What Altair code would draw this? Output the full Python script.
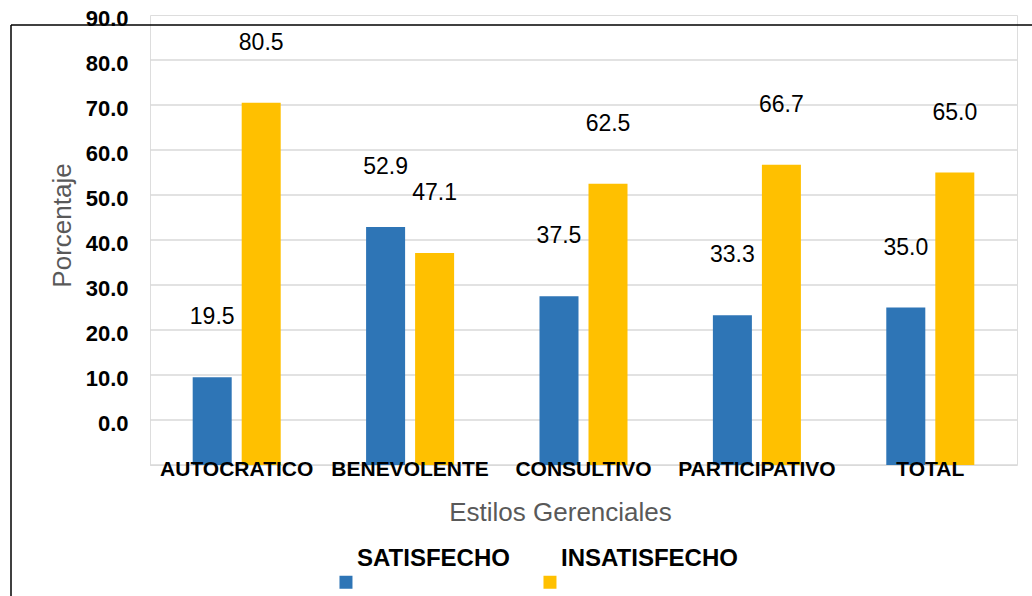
import altair as alt
import pandas as pd

CATEGORIES = ["AUTOCRATICO", "BENEVOLENTE", "CONSULTIVO", "PARTICIPATIVO", "TOTAL"]
SATISFECHO = [19.5, 52.9, 37.5, 33.3, 35.0]
INSATISFECHO = [80.5, 47.1, 62.5, 66.7, 65.0]
SERIES = ["SATISFECHO", "INSATISFECHO"]
COLORS = ["#2E75B6", "#FFC000"]
GRID = [0, 10, 20, 30, 40, 50, 60, 70, 80, 90]
TICKS = [10, 20, 30, 40, 50, 60, 70, 80, 90, 100]

rows = []
for c, s, i in zip(CATEGORIES, SATISFECHO, INSATISFECHO):
    rows.append({"cat": c, "serie": SERIES[0], "val": s})
    rows.append({"cat": c, "serie": SERIES[1], "val": i})
df = pd.DataFrame(rows)

FONT = "Liberation Sans"

x_axis = alt.Axis(title="Estilos Gerenciales", domain=False, ticks=False, grid=False,
                  gridOpacity=0,
                  labelAngle=0, labelFontWeight="bold", labelFontSize=21,
                  labelColor="#000000", labelPadding=-7, labelFont=FONT, zindex=1,
                  titleFont=FONT, titleFontSize=26, titleFontWeight="normal",
                  titleColor="#595959", titleX=410, titleY=47,
                  titleAlign="center", titleBaseline="middle")
y_axis = alt.Axis(values=TICKS, grid=False, gridOpacity=0, domain=False, ticks=False,
                  tickSize=0,
                  labelExpr="format(datum.value - 10, '.1f')",
                  labelFontSize=22, labelFontWeight="bold", labelColor="#000000",
                  labelFont=FONT, labelPadding=22, labelOffset=3,
                  title="Porcentaje", titleFont=FONT, titleFontSize=26,
                  titleFontWeight="normal", titleColor="#595959",
                  titleX=-88, titleY=210, titleAlign="center",
                  titleBaseline="middle", titleAngle=270)
y_scale = alt.Scale(domain=[0, 100], nice=False, zero=True)
x_scale = alt.Scale(paddingInner=0, paddingOuter=0)
off_scale = alt.Scale(paddingInner=0.204, paddingOuter=0.871)

grid = alt.Chart(pd.DataFrame({"g": GRID})).mark_rule(
    color="#d9d9d9", strokeWidth=1.5
).encode(y=alt.Y("g:Q", scale=y_scale, axis=y_axis, title="Porcentaje"))

SHIFTED_SQUARE = "M-0.85,2.54 L1.15,2.54 L1.15,4.54 L-0.85,4.54 Z"

bars = alt.Chart(df).mark_bar().encode(
    x=alt.X("cat:N", sort=CATEGORIES, scale=x_scale, axis=x_axis),
    xOffset=alt.XOffset("serie:N", sort=SERIES, scale=off_scale),
    y=alt.Y("val:Q", scale=y_scale, axis=y_axis, title="Porcentaje"),
    color=alt.Color("serie:N", sort=SERIES,
                    scale=alt.Scale(domain=SERIES, range=COLORS),
                    legend=alt.Legend(title=None, orient="none", legendX=183, legendY=532,
                                      direction="horizontal", symbolType=SHIFTED_SQUARE,
                                      symbolSize=169, symbolStrokeWidth=0,
                                      labelFontSize=24, labelFontWeight="bold",
                                      labelFont=FONT, labelColor="#000000",
                                      labelLimit=400,
                                      labelOffset=0, columnPadding=27, padding=0)),
)

labels = alt.Chart(df).mark_text(
    fontSize=23, font=FONT, color="#000000", dy=-60, baseline="middle"
).encode(
    x=alt.X("cat:N", sort=CATEGORIES, scale=x_scale, axis=x_axis),
    xOffset=alt.XOffset("serie:N", sort=SERIES, scale=off_scale),
    y=alt.Y("val:Q", scale=y_scale, axis=y_axis, title="Porcentaje"),
    text=alt.Text("val:Q", format=".1f"),
)

one = pd.DataFrame({"a": [0]})
frame_top = alt.Chart(one).mark_rule(color="#000000", strokeWidth=1.5).encode(
    x=alt.value(-139), x2=alt.value(900), y=alt.value(10))
frame_left = alt.Chart(one).mark_rule(color="#000000", strokeWidth=1.5).encode(
    x=alt.value(-139), y=alt.value(10), y2=alt.value(600))

chart = alt.layer(grid, bars, labels, frame_top, frame_left).properties(
    width=867, height=450,
    autosize=alt.AutoSizeParams(type="none"),
    padding={"left": 150, "top": 15, "right": 15, "bottom": 131},
).configure_view(
    stroke="transparent", strokeWidth=0, strokeOpacity=0
).configure_axis(
    grid=False, gridOpacity=0
).configure_axisBand(
    grid=False, gridOpacity=0
).configure(font=FONT, background="#ffffff")

chart.save("out.html", embed_options={"renderer": "svg", "actions": False})
